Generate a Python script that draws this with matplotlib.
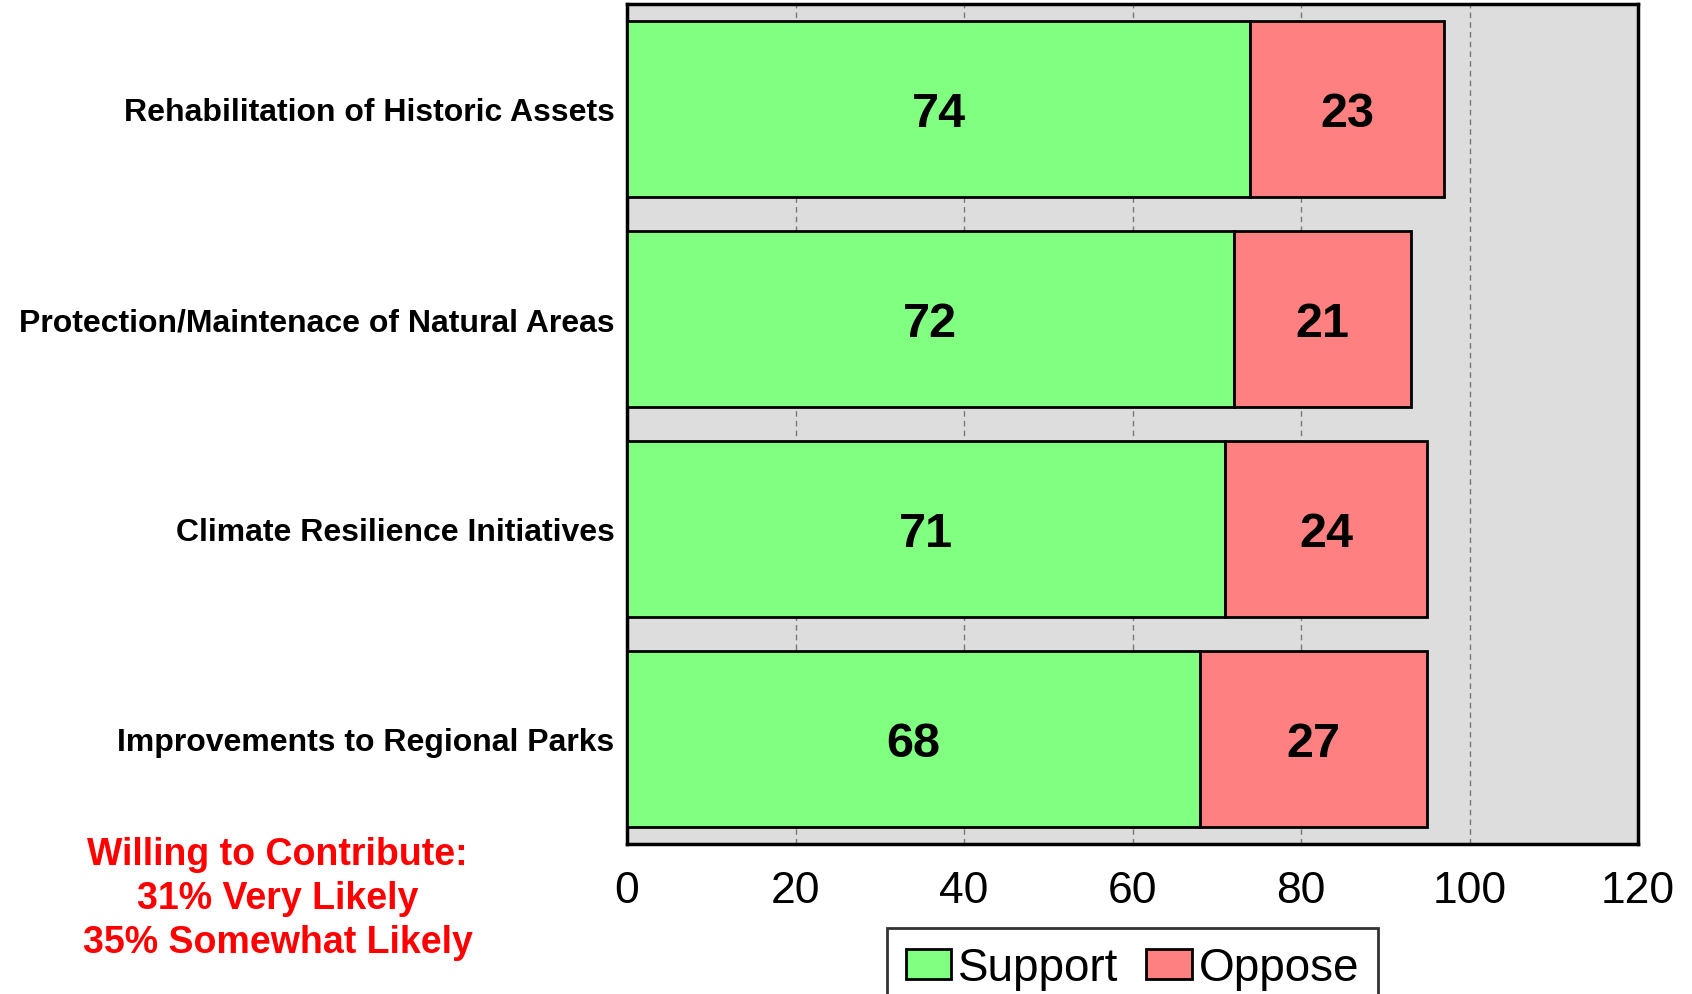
import matplotlib.pyplot as plt
import numpy as np

plt.rcParams['font.family'] = ['Liberation Sans', 'DejaVu Sans']

# DATA
categories = [
    "Rehabilitation of Historic Assets",
    "Protection/Maintenace of Natural Areas",
    "Climate Resilience Initiatives",
    "Improvements to Regional Parks",
]
support = [74, 72, 71, 68]
oppose = [23, 21, 24, 27]
note_lines = ["Willing to Contribute:", "31% Very Likely", "35% Somewhat Likely"]

# FIGURE
fig = plt.figure(figsize=(16.92, 9.95), dpi=100)
ax = fig.add_axes([0.3706, 0.1508, 0.5975, 0.8442])
ax.set_facecolor("#DDDDDD")

y = np.arange(len(categories))[::-1]
h = 0.84

ax.barh(y, support, height=h, color="#80FF80", edgecolor="black",
        linewidth=2, label="Support", zorder=3)
ax.barh(y, oppose, left=support, height=h, color="#FF8080",
        edgecolor="black", linewidth=2, label="Oppose", zorder=3)

# VALUE LABELS
for yi, s, o in zip(y, support, oppose):
    ax.text(s / 2, yi - 0.02, str(s), ha="center", va="center",
            fontsize=35, fontweight="bold", zorder=4)
    ax.text(s + o / 2, yi - 0.02, str(o), ha="center", va="center",
            fontsize=35, fontweight="bold", zorder=4)

# AXES
ax.set_xlim(0, 120)
ax.set_ylim(-0.5, len(categories) - 0.5)
ax.set_xticks(range(0, 121, 20))
ax.set_yticks(y)
ax.set_yticklabels(categories, fontsize=23, fontweight="bold")
ax.tick_params(axis="x", length=0, labelsize=32, pad=19)
ax.tick_params(axis="y", length=0, pad=9)
ax.grid(axis="x", color="#777777", linestyle=(0, (4, 3)), linewidth=1, zorder=1)
for sp in ax.spines.values():
    sp.set_linewidth(2.5)
    sp.set_color("black")

# LEGEND
leg = ax.legend(loc="upper center", bbox_to_anchor=(0.5, -0.1), ncol=2,
                fontsize=33, frameon=True, fancybox=False, edgecolor="black",
                handlelength=1.0, handleheight=0.65, handletextpad=0.15,
                columnspacing=0.6, borderpad=0.4, borderaxespad=0)
leg.get_frame().set_linewidth(2)

# NOTE
fig.text(0.164, 0.034, "\n".join(note_lines), ha="center", va="bottom",
         multialignment="center", color="red", fontsize=27,
         fontweight="bold", linespacing=1.28)

plt.savefig("out.png", dpi=100)
